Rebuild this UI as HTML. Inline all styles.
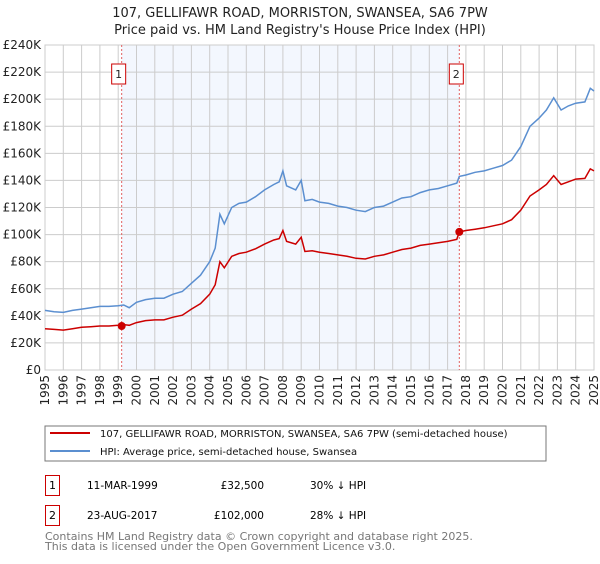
<!DOCTYPE html>
<html><head><meta charset="utf-8"><style>
body{margin:0;background:#fff;font-family:"DejaVu Sans","Liberation Sans",sans-serif;}
svg text{font-family:"DejaVu Sans","Liberation Sans",sans-serif;}
</style></head><body>
<svg id="c" width="600" height="560" xmlns="http://www.w3.org/2000/svg">
<text x="300" y="17" text-anchor="middle" font-size="13" fill="#222">107, GELLIFAWR ROAD, MORRISTON, SWANSEA, SA6 7PW</text>
<text x="300" y="34" text-anchor="middle" font-size="13" fill="#222">Price paid vs. HM Land Registry's House Price Index (HPI)</text>
<g id="plot"></g>
<rect x="45" y="426" width="501" height="35" fill="#fff" stroke="#777"/>
<line x1="50" y1="433" x2="90" y2="433" stroke="#cc0000" stroke-width="2"/>
<text x="100" y="437" font-size="10" fill="#111">107, GELLIFAWR ROAD, MORRISTON, SWANSEA, SA6 7PW (semi-detached house)</text>
<line x1="50" y1="451" x2="90" y2="451" stroke="#5b8fd0" stroke-width="2"/>
<text x="100" y="455" font-size="10" fill="#111">HPI: Average price, semi-detached house, Swansea</text>
<g>
<rect x="45.5" y="475.5" width="14" height="20" fill="#fff" stroke="#cc0000"/>
<text x="52.5" y="489" text-anchor="middle" font-size="11">1</text>
<text x="87" y="489" font-size="10.5">11-MAR-1999</text>
<text x="264" y="489" text-anchor="end" font-size="10.5">£32,500</text>
<text x="310" y="489" font-size="10.5">30% ↓ HPI</text></g>
<g>
<rect x="45.5" y="505.5" width="14" height="20" fill="#fff" stroke="#cc0000"/>
<text x="52.5" y="519" text-anchor="middle" font-size="11">2</text>
<text x="87" y="519" font-size="10.5">23-AUG-2017</text>
<text x="264" y="519" text-anchor="end" font-size="10.5">£102,000</text>
<text x="310" y="519" font-size="10.5">28% ↓ HPI</text></g>
<text x="45" y="540" font-size="11" fill="#777">Contains HM Land Registry data © Crown copyright and database right 2025.</text>
<text x="45" y="550" font-size="11" fill="#777">This data is licensed under the Open Government Licence v3.0.</text>
</svg>
<script>
const dates=[1995.0,1995.5,1996.0,1996.5,1997.0,1997.5,1998.0,1998.5,1999.0,1999.3,1999.6,2000.0,2000.5,2001.0,2001.5,2002.0,2002.5,2003.0,2003.5,2004.0,2004.3,2004.56,2004.8,2005.2,2005.6,2006.0,2006.5,2007.0,2007.5,2007.8,2008.0,2008.2,2008.7,2009.0,2009.2,2009.6,2010.0,2010.5,2011.0,2011.5,2012.0,2012.5,2013.0,2013.5,2014.0,2014.5,2015.0,2015.5,2016.0,2016.5,2017.0,2017.5,2017.64,2018.0,2018.5,2019.0,2019.5,2020.0,2020.5,2021.0,2021.5,2022.0,2022.4,2022.8,2023.2,2023.6,2024.0,2024.5,2024.8,2025.0];
const hpi=[44,43,42.5,44,45,46,47,47,47.5,48,46,50,52,53,53,56,58,64,70,80,90,115,108,120,123,124,128,133,137,139,147,136,133,140,125,126,124,123,121,120,118,117,120,121,124,127,128,131,133,134,136,138,143,144,146,147,149,151,155,165,180,186,192,201,192,195,197,198,208,206];
const property=[30.5,30,29.5,30.5,31.5,32,32.5,32.5,33,33.5,33,35,36.5,37,37,39,40.5,45,49,56,63,80,75.5,84,86,87,89.5,93,96,97,103,95,93,98,87.5,88,87,86,85,84,82.5,82,84,85,87,89,90,92,93,94,95,96.5,102,103,104,105,106.5,108,111,118,128.5,133,137,143.5,137,139,141,141.5,148.5,147];
const saleDates=[1999.19,2017.64];
const salePrices=[32.5,102];
const saleLabels=["1","2"];
const yTicks=[0,20,40,60,80,100,120,140,160,180,200,220,240];
const yTickLabels=["£0","£20K","£40K","£60K","£80K","£100K","£120K","£140K","£160K","£180K","£200K","£220K","£240K"];
const xTicks=[1995,1996,1997,1998,1999,2000,2001,2002,2003,2004,2005,2006,2007,2008,2009,2010,2011,2012,2013,2014,2015,2016,2017,2018,2019,2020,2021,2022,2023,2024,2025];

const L=45,R=594,T=45,B=370;
const x=d=>L+(d-1995)/30*(R-L);
const y=v=>B-v/240*(B-T);
const NS="http://www.w3.org/2000/svg";
const g=document.getElementById('plot');
function mk(t,a){const e=document.createElementNS(NS,t);for(const k in a)e.setAttribute(k,a[k]);g.appendChild(e);return e;}
let e=mk('rect',{x:x(saleDates[0]),y:T,width:x(saleDates[1])-x(saleDates[0]),height:B-T,fill:'#eef3fd',opacity:0.7});


yTicks.forEach((v,i)=>{
 let l=mk('line',{x1:L,x2:R,y1:y(v),y2:y(v),stroke:'#ccc'});
 
 
 let t=mk('text',{x:L-4,y:y(v)+4,'text-anchor':'end','font-size':12,fill:'#222'});
 t.textContent=yTickLabels[i];
 
 
});
xTicks.forEach(d=>{
 let l=mk('line',{x1:x(d),x2:x(d),y1:T,y2:B,stroke:'#ccc'});
 
 
 let t=mk('text',{x:0,y:0,'text-anchor':'end','font-size':12,fill:'#222',transform:`translate(${x(d)+4},${B+5}) rotate(-90)`});
 t.textContent=d;
 
 
});
e=mk('rect',{x:L,y:T,width:R-L,height:B-T,fill:'none',stroke:'#ccc'});


saleDates.forEach((d,i)=>{
 let l=mk('line',{x1:x(d),x2:x(d),y1:T,y2:B,stroke:'#e06060','stroke-dasharray':'2,2'});
 
 
 let r=mk('rect',{x:x(d)-10,y:64,width:14,height:20,fill:'#fff',stroke:'#cc0000'});
 
 
 let t=mk('text',{x:x(d)-3,y:78,'text-anchor':'middle','font-size':11,fill:'#222'});
 t.textContent=saleLabels[i];
 
 
});
const pts=a=>a.map((v,i)=>x(dates[i]).toFixed(1)+','+y(v).toFixed(1)).join(' ');
e=mk('polyline',{points:pts(hpi),fill:'none',stroke:'#5b8fd0','stroke-width':1.5});


e=mk('polyline',{points:pts(property),fill:'none',stroke:'#cc0000','stroke-width':1.5});


saleDates.forEach((d,i)=>{
 let c=mk('circle',{cx:x(d),cy:y(salePrices[i]),r:4,fill:'#cc0000'});
 
 
});
</script>
</body></html>
